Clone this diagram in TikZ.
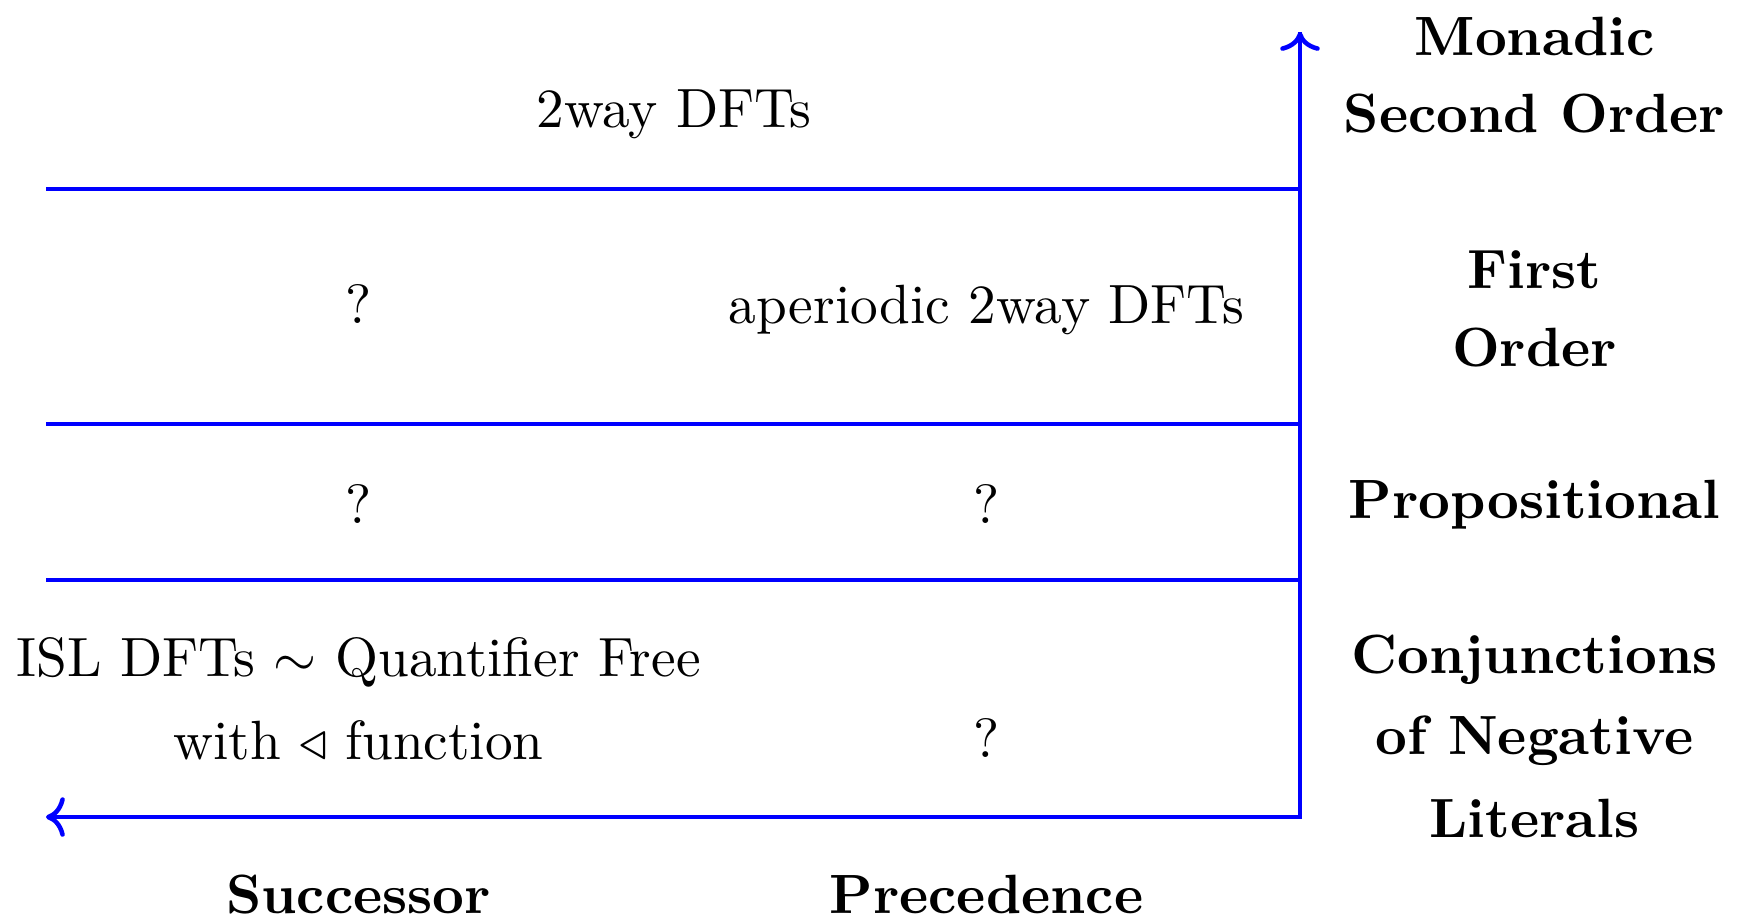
\documentclass[tikz,border=0pt]{standalone}
\usetikzlibrary{arrows.meta}
\begin{document}
\begin{tikzpicture}[x=0.1808pt, y=-0.1808pt,
  axis/.style={blue, line width=0.82pt},
  level/.style={blue, line width=0.82pt},
  cell/.style={anchor=base, inner sep=0pt, font=\normalsize, align=center},
  tier/.style={anchor=base, inner sep=0pt, font=\bfseries, align=center},
  basis/.style={anchor=base, inner sep=0pt, font=\bfseries}]
  \useasboundingbox (0,0) rectangle (1746,920);

  % axes
  \coordinate (origin) at (1300,817);
  \coordinate (ytop) at (1300,32);
  \coordinate (xleft) at (46,817);
  \draw[axis, ->] (ytop) -- (origin) -- (xleft);
  \draw[axis, <-] (ytop) -- (origin);

  % level separators
  \coordinate (l1a) at (46,189);  \coordinate (l1b) at (1300,189);
  \coordinate (l2a) at (46,424);  \coordinate (l2b) at (1300,424);
  \coordinate (l3a) at (46,580);  \coordinate (l3b) at (1300,580);
  \draw[level] (l1a) -- (l1b);
  \draw[level] (l2a) -- (l2b);
  \draw[level] (l3a) -- (l3b);

  % cells (multi-line nodes are placed by the baseline of their last line)
  \node[cell] (mso) at (674,127) {2way DFTs};
  \node[cell] (fos) at (358.5,323) {?};
  \node[cell] (fop) at (986.5,323) {aperiodic 2way DFTs};
  \node[cell] (prs) at (358.5,523) {?};
  \node[cell] (prp) at (986.5,523) {?};
  \node[cell] (cns) at (358.5,759) {ISL DFTs $\sim$ Quantifier Free\\[3pt] with $\triangleleft$ function};
  \node[cell] (cnp) at (986.5,757) {?};

  % logic tiers
  \node[tier] (tmso) at (1534.5,132.5) {Monadic\\[2pt] Second Order};
  \node[tier] (tfo) at (1534.5,366) {First\\[2.1pt] Order};
  \node[tier] (tprop) at (1534.5,518) {Propositional};
  \node[tier] (tcnl) at (1534.5,837) {Conjunctions\\[2.5pt] of Negative\\[3pt] Literals};

  % signatures
  \node[basis] (succ) at (358.5,913) {Successor};
  \node[basis] (prec) at (986.5,913) {Precedence};
\end{tikzpicture}
\end{document}
